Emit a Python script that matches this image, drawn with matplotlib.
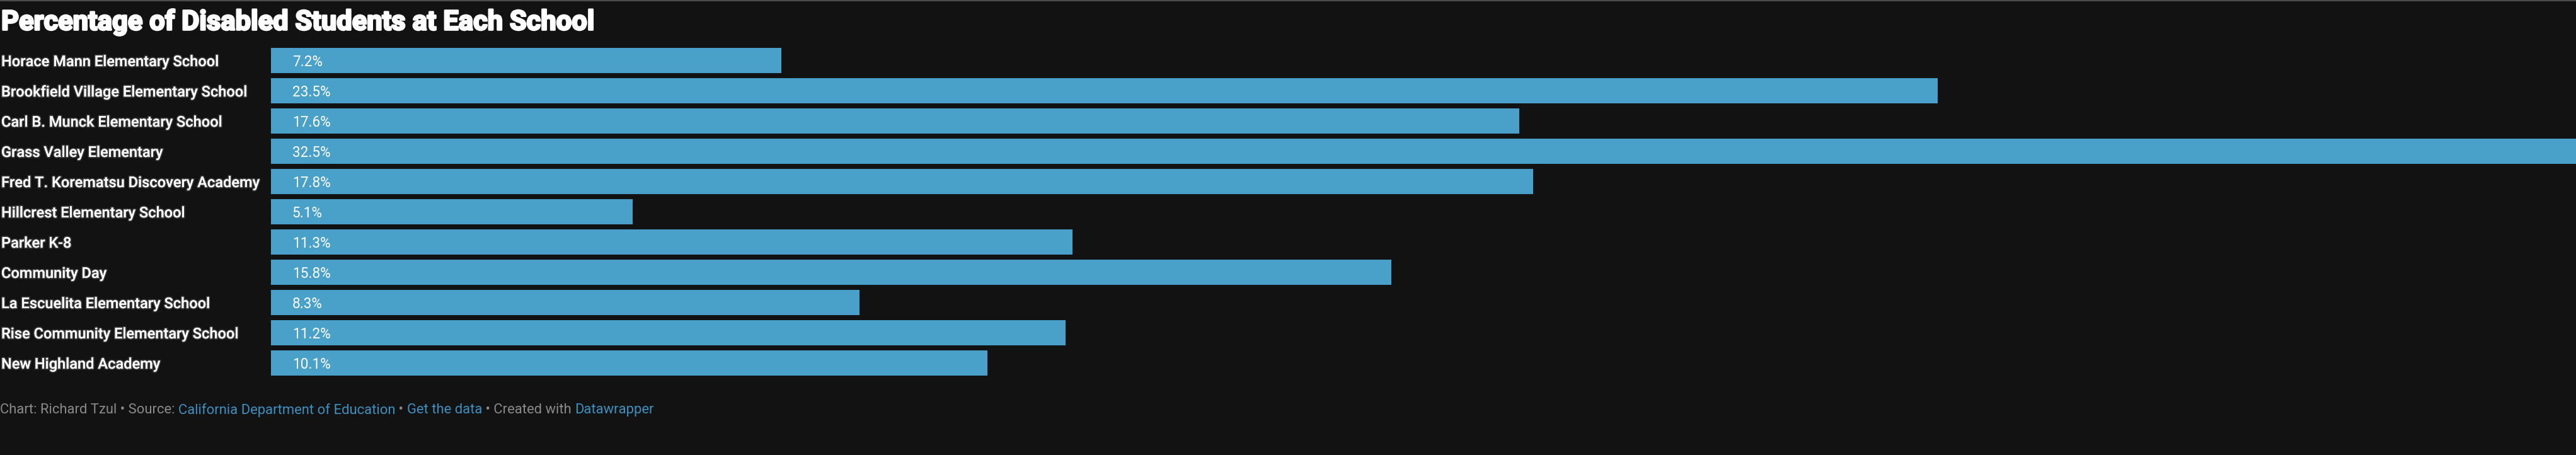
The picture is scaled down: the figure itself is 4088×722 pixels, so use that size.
"""
Percentage of Disabled Students at Each School — horizontal bar chart (dark theme).
"""

import matplotlib
matplotlib.use("Agg")
import matplotlib.pyplot as plt
import matplotlib.transforms as mtransforms
import matplotlib.patheffects as pe

# ------------------------------------------------------------------
# Data
# ------------------------------------------------------------------

schools = [
    "Horace Mann Elementary School",
    "Brookfield Village Elementary School",
    "Carl B. Munck Elementary School",
    "Grass Valley Elementary",
    "Fred T. Korematsu Discovery Academy",
    "Hillcrest Elementary School",
    "Parker K-8",
    "Community Day",
    "La Escuelita Elementary School",
    "Rise Community Elementary School",
    "New Highland Academy",
]
pct_disabled = [7.2, 23.5, 17.6, 32.5, 17.8, 5.1, 11.3, 15.8, 8.3, 11.2, 10.1]

title = "Percentage of Disabled Students at Each School"
footer_parts = [
    ("Chart: Richard Tzul • Source: ", "grey"),
    ("California Department of Education", "link"),
    (" • ", "grey"),
    ("Get the data", "link"),
    (" • Created with ", "grey"),
    ("Datawrapper", "link"),
]

# ------------------------------------------------------------------
# Style
# ------------------------------------------------------------------

BG = "#121212"
BAR = "#49a0c8"
GREY = "#8a8a8a"
LINK = "#3d8fbf"
plt.rcParams["font.family"] = ["Roboto", "DejaVu Sans"]

W, H, DPI = 4088, 722, 100
fig = plt.figure(figsize=(W / DPI, H / DPI), dpi=DPI, facecolor=BG)

# top thin rule
fig.add_artist(plt.Line2D([0, 1], [1 - 1 / H, 1 - 1 / H], transform=fig.transFigure,
                          color="#4d4d4d", linewidth=1.6))

# axes spanning the bar area
left, top_px, bot_px = 430 / W, 72, 600
ax = fig.add_axes([left, 1 - bot_px / H, 1 - left, (bot_px - top_px) / H])
ax.set_facecolor(BG)
n = len(schools)
ypos = list(range(n))
ax.barh(ypos, pct_disabled, height=40 / 48, color=BAR)
ax.set_xlim(0, max(pct_disabled))
ax.set_ylim(n - 0.5, -0.5)
ax.axis("off")

# category labels (left side) and value labels (inside bars)
blend = mtransforms.blended_transform_factory(fig.transFigure, ax.transData)
glow = [pe.withStroke(linewidth=2.5, foreground=(1, 1, 1, 0.18))]
for y, name, v in zip(ypos, schools, pct_disabled):
    ax.text(2 / W, y, name, transform=blend, ha="left", va="center_baseline",
            fontsize=17, color="white", fontweight="medium", path_effects=glow)
    ax.text(0.3, y, f"{v}%", ha="left", va="center_baseline",
            fontsize=16.3, color="white")

# title (heavy look: bold + thin white stroke)
fig.text(2 / W, 1 - 31 / H, title, ha="left", va="center_baseline",
         fontsize=31.3, fontweight="bold", color="white",
         path_effects=[pe.withStroke(linewidth=2.0, foreground="white")])

# footer with mixed colours
renderer = fig.canvas.get_renderer()
x = 0.0
for txt, kind in footer_parts:
    t = fig.text(x, 1 - 648 / H, txt, ha="left", va="center_baseline",
                 fontsize=15.8, color=GREY if kind == "grey" else LINK)
    bb = t.get_window_extent(renderer)
    x = bb.x1 / W

fig.savefig("out.png", dpi=DPI, facecolor=BG)
